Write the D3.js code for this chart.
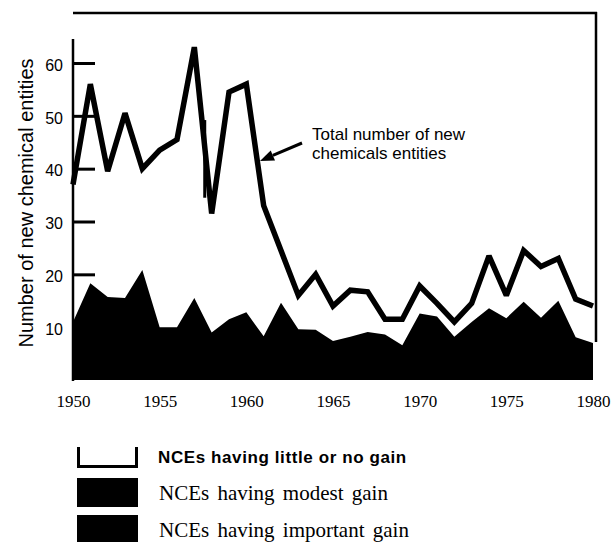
<!DOCTYPE html>
<html>
<head>
<meta charset="utf-8">
<script src="https://cdn.jsdelivr.net/npm/d3@7"></script>
<style>
  body { margin: 0; background: #fff; }
  svg { display: block; }
</style>
</head>
<body>
<script>
// values
const years = [1950, 1951, 1952, 1953, 1954, 1955, 1956, 1957, 1958, 1959,
               1960, 1961, 1962, 1963, 1964, 1965, 1966, 1967, 1968, 1969,
               1970, 1971, 1972, 1973, 1974, 1975, 1976, 1977, 1978, 1979, 1980];

// total number of new chemical entities (thick line)
const totalNCE = [37, 56, 39.5, 50.5, 40, 43.5, 45.5, 63, 31.5, 54.5,
                  56, 33, 24.5, 16, 20, 14, 17, 16.7, 11.5, 11.5,
                  17.8, 14.5, 11, 14.5, 23.5, 16, 24.5, 21.5, 23, 15.3, 14];

// NCEs with modest + important gain (both printed solid black)
const gainNCE = [11, 18.3, 15.7, 15.5, 20.8, 10, 10, 15.5, 9, 11.5,
                 12.8, 8.3, 14.6, 9.6, 9.5, 7.4, 8.2, 9.1, 8.6, 6.6,
                 12.6, 12, 8.2, 11, 13.6, 11.7, 14.8, 11.8, 15, 8.1, 7];

// stray vertical stroke in the print near 1958
const strayStroke = [{ year: 1957.6, from: 49.2, to: 34.5 }];

const yTicks = [10, 20, 30, 40, 50, 60];
const xTicks = [1950, 1955, 1960, 1965, 1970, 1975, 1980];

const legendLabels = ['NCEs having little or no gain', 'NCEs having modest gain', 'NCEs having important gain'];

const width = 615;
const height = 542;
const sans = '"Liberation Sans", Arial, Helvetica, sans-serif';
const serif = '"Liberation Serif", "Times New Roman", serif';

const svg = d3.select('body').append('svg')
  .attr('width', width)
  .attr('height', height);

const x = d3.scaleLinear().domain([1950, 1980]).range([73, 593]);
const y = d3.scaleLinear().domain([0, 60]).range([380, 63]);

const data = years.map((yr, i) => ({ year: yr, total: totalNCE[i], gain: gainNCE[i] }));

// frame: top and right border, left axis line
svg.append('line')
  .attr('x1', 73).attr('x2', 597).attr('y1', 13).attr('y2', 13)
  .attr('stroke', '#000').attr('stroke-width', 2.5);
svg.append('line')
  .attr('x1', 596).attr('x2', 596).attr('y1', 12).attr('y2', 342)
  .attr('stroke', '#000').attr('stroke-width', 2.5);
svg.append('line')
  .attr('x1', 73).attr('x2', 73).attr('y1', 39).attr('y2', 381)
  .attr('stroke', '#000').attr('stroke-width', 2.5);

// y axis ticks pointing inward
const yAxis = svg.append('g')
  .attr('transform', 'translate(73,0)')
  .call(d3.axisLeft(y).tickValues(yTicks).tickSize(-22).tickPadding(10));
yAxis.select('.domain').remove();
yAxis.selectAll('line').attr('stroke', '#000').attr('stroke-width', 3);
yAxis.selectAll('text')
  .attr('fill', '#000')
  .attr('dy', '0.45em')
  .style('font-family', sans)
  .style('font-size', '16px');

// y axis title
svg.append('text')
  .attr('transform', 'translate(33,203) rotate(-90)')
  .attr('text-anchor', 'middle')
  .style('font-family', sans)
  .style('font-size', '20px')
  .text('Number of new chemical entities');

// black area: NCEs with modest or important gain
const area = d3.area()
  .x(d => x(d.year))
  .y0(y(0))
  .y1(d => y(d.gain));

svg.append('path')
  .datum(data)
  .attr('d', area)
  .attr('fill', '#000');

// total line
const line = d3.line()
  .x(d => x(d.year))
  .y(d => y(d.total));

svg.append('path')
  .datum(data)
  .attr('d', line)
  .attr('fill', 'none')
  .attr('stroke', '#000')
  .attr('stroke-width', 5.5)
  .attr('stroke-linejoin', 'miter')
  .attr('stroke-miterlimit', 2.6);

svg.selectAll('.stray')
  .data(strayStroke)
  .enter()
  .append('line')
  .attr('class', 'stray')
  .attr('x1', d => x(d.year)).attr('x2', d => x(d.year))
  .attr('y1', d => y(d.from)).attr('y2', d => y(d.to))
  .attr('stroke', '#000')
  .attr('stroke-width', 3);

// x axis labels
const xAxis = svg.append('g')
  .attr('transform', 'translate(0,381)')
  .call(d3.axisBottom(x).tickValues(xTicks).tickFormat(d3.format('d')).tickSize(0).tickPadding(14));
xAxis.select('.domain').remove();
xAxis.selectAll('text')
  .attr('fill', '#000')
  .style('font-family', serif)
  .style('font-size', '17px');

// annotation with arrow
const tail = [302, 143];
const tip = [260, 161];
const dx = tip[0] - tail[0], dy = tip[1] - tail[1];
const len = Math.sqrt(dx * dx + dy * dy);
const ux = dx / len, uy = dy / len;
const headLen = 14, headW = 5.5;
const bx = tip[0] - ux * headLen, by = tip[1] - uy * headLen;

svg.append('line')
  .attr('x1', tail[0]).attr('y1', tail[1])
  .attr('x2', bx).attr('y2', by)
  .attr('stroke', '#000').attr('stroke-width', 3);
svg.append('path')
  .attr('d', `M${tip[0]},${tip[1]}L${bx - uy * headW},${by + ux * headW}L${bx + uy * headW},${by - ux * headW}Z`)
  .attr('fill', '#000');

const note = svg.append('text')
  .style('font-family', sans)
  .style('font-size', '17px');
note.append('tspan').attr('x', 312).attr('y', 140).text('Total number of new');
note.append('tspan').attr('x', 312).attr('y', 159).text('chemicals entities');

// legend
svg.append('path')
  .attr('d', 'M78.5,447V466.5H136.5V447')
  .attr('fill', 'none')
  .attr('stroke', '#000')
  .attr('stroke-width', 3);
svg.append('rect')
  .attr('x', 77).attr('y', 478).attr('width', 61).attr('height', 29)
  .attr('fill', '#000');
svg.append('rect')
  .attr('x', 77).attr('y', 515).attr('width', 61).attr('height', 27)
  .attr('fill', '#000');

svg.append('text')
  .attr('x', 158).attr('y', 463)
  .style('font-family', sans)
  .style('font-size', '17px')
  .style('font-weight', 'bold')
  .style('letter-spacing', '0.6px')
  .text(legendLabels[0]);

svg.selectAll('.leg-serif')
  .data(legendLabels.slice(1))
  .enter()
  .append('text')
  .attr('class', 'leg-serif')
  .attr('x', 159)
  .attr('y', (d, i) => 500 + i * 37)
  .style('font-family', serif)
  .style('font-size', '21px')
  .style('word-spacing', '3px')
  .text(d => d);
</script>
</body>
</html>
